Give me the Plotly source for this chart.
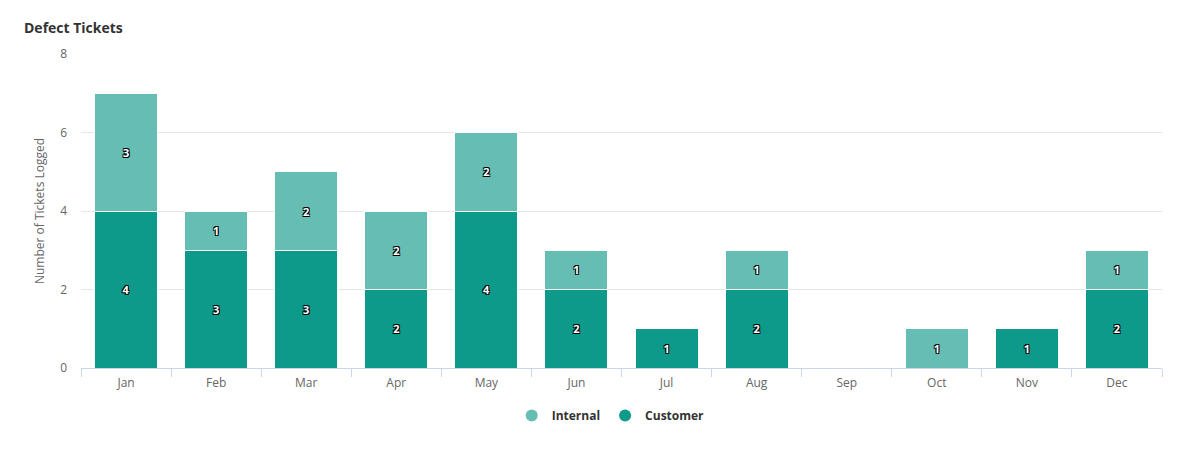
import plotly.graph_objects as go

months = ["Jan", "Feb", "Mar", "Apr", "May", "Jun", "Jul", "Aug", "Sep", "Oct", "Nov", "Dec"]
customer = [4, 3, 3, 2, 4, 2, 1, 2, 0, 0, 1, 2]
internal = [3, 1, 2, 2, 2, 1, 0, 1, 0, 1, 0, 1]

INTERNAL_COLOR = "#66bdb3"
CUSTOMER_COLOR = "#0e9a8a"
FONT = "Open Sans"
OUTLINE = "-1px -1px 0 #000, 1px -1px 0 #000, -1px 1px 0 #000, 1px 1px 0 #000"


def labels(vals):
    # hide labels on empty segments
    return [str(v) if v else "" for v in vals]


fig = go.Figure()

for name, vals, color in [("Customer", customer, CUSTOMER_COLOR), ("Internal", internal, INTERNAL_COLOR)]:
    fig.add_trace(go.Bar(
        x=months, y=vals, name=name,
        marker=dict(color=color, line=dict(color="white", width=1)),
        text=labels(vals), textposition="inside", insidetextanchor="middle",
        textangle=0, cliponaxis=False,
        textfont=dict(family=FONT, size=11, color="white", weight="bold", shadow=OUTLINE),
        width=0.7, showlegend=False, hoverinfo="x+y+name",
    ))

# circle legend markers (Highcharts style)
for name, color in [("Internal", INTERNAL_COLOR), ("Customer", CUSTOMER_COLOR)]:
    fig.add_trace(go.Scatter(
        x=[None], y=[None], mode="markers", name=name,
        marker=dict(symbol="circle", size=13, color=color),
    ))

W, H = 1182, 445
fig.update_layout(
    barmode="stack",
    width=W, height=H,
    margin=dict(l=73, r=28, t=46, b=85),
    paper_bgcolor="white", plot_bgcolor="white",
    font=dict(family=FONT, color="#666666", size=12),
    title=dict(text="<b>Defect Tickets</b>", x=16 / W, xanchor="left", y=1 - 20 / H, yanchor="middle",
               font=dict(family=FONT, size=14, color="#333333")),
    legend=dict(orientation="h", x=0.49, xanchor="center", y=-0.105, yanchor="top",
                traceorder="normal",
                font=dict(family=FONT, size=12, color="#333333", weight="bold"),
                itemsizing="constant"),
    bargap=0.3,
)

fig.update_xaxes(
    showline=True, linecolor="#ccd6eb", linewidth=1,
    ticks="outside", tickson="boundaries", ticklen=8, tickcolor="#ccd6eb",
    tickfont=dict(size=12, color="#666666"), ticklabelstandoff=4, showgrid=False,
)
fig.update_yaxes(
    range=[0, 8], dtick=2, showgrid=True, gridcolor="#e6e6e6", zeroline=False,
    tickfont=dict(size=12, color="#666666"), ticklabelstandoff=13,
    title=dict(text="Number of Tickets Logged", font=dict(size=12, color="#666666"), standoff=12),
)

fig.write_html("out.html")
